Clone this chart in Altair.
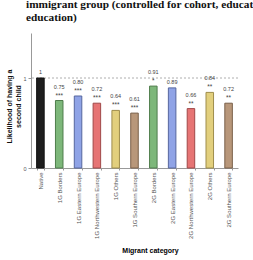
import altair as alt
import pandas as pd

categories = ["Native", "1G Borders", "1G Eastern Europe", "1G Northwestern Europe",
              "1G Others", "1G Southern Europe", "2G Borders", "2G Eastern Europe",
              "2G Northwestern Europe", "2G Others", "2G Southern Europe"]
values = [1.00, 0.75, 0.80, 0.72, 0.64, 0.61, 0.91, 0.89, 0.66, 0.84, 0.72]
value_labels = ["1", "0.75", "0.80", "0.72", "0.64", "0.61", "0.91", "0.89", "0.66", "0.84", "0.72"]
stars = ["", "***", "***", "***", "***", "***", "*", "", "**", "**", "**"]
groups = ["Native", "Borders", "Eastern", "Northwestern", "Others", "Southern",
          "Borders", "Eastern", "Northwestern", "Others", "Southern"]

group_domain = ["Native", "Borders", "Eastern", "Northwestern", "Others", "Southern"]
fill_range = ["#1e1e1e", "#7db77a", "#8fa3e6", "#e67474", "#e2cf7d", "#b8977a"]
stroke_range = ["#111111", "#4f7d4c", "#56679e", "#a04848", "#9e8d4c", "#7a604a"]

df = pd.DataFrame({"cat": categories, "val": values, "grp": groups,
                   "lab": value_labels, "stars": stars})

x = alt.X("cat:N", sort=categories, title="Migrant category",
          scale=alt.Scale(paddingInner=0.6, paddingOuter=0.3),
          axis=alt.Axis(labelAngle=-90, labelFontSize=6, labelColor="#555555",
                        labelFont="Liberation Sans", labelPadding=2,
                        tickBand="extent", tickSize=2, tickColor="#999999",
                        domainColor="#999999", titleFont="Liberation Sans",
                        titleFontSize=7, titleFontWeight="bold", titleColor="#000000",
                        titleX=119, titleY=84, titleBaseline="alphabetic"))

y = alt.Y("val:Q", title=["Likelihood of having a", "second child"],
          scale=alt.Scale(domain=[0, 1.5], nice=False),
          axis=alt.Axis(values=[0, 1], format=".0f", grid=False, labelFontSize=5.5,
                        labelColor="#555555", labelFont="Liberation Sans",
                        tickSize=3, tickColor="#999999", domainColor="#999999",
                        titleFont="Liberation Sans", titleFontSize=7,
                        titleFontWeight="bold", titleColor="#111111",
                        titleAngle=-90, titleX=-26, titleY=73,
                        titleAlign="center", titleBaseline="top", titleLineHeight=9))

bars = alt.Chart(df).mark_bar(strokeWidth=1).encode(
    x=x, y=y,
    fill=alt.Fill("grp:N", scale=alt.Scale(domain=group_domain, range=fill_range), legend=None),
    stroke=alt.Stroke("grp:N", scale=alt.Scale(domain=group_domain, range=stroke_range), legend=None),
)

num_starred = alt.Chart(df).transform_filter("datum.stars != ''").mark_text(
    baseline="alphabetic", dy=-12, fontSize=5.5, color="#444444",
    font="Liberation Sans").encode(x=x, y=y, text="lab:N")

num_plain = alt.Chart(df).transform_filter("datum.stars == ''").mark_text(
    baseline="alphabetic", dy=-4, fontSize=5.5, color="#444444",
    font="Liberation Sans").encode(x=x, y=y, text="lab:N")

star_text = alt.Chart(df).transform_filter("datum.stars != ''").mark_text(
    baseline="alphabetic", dy=-3, fontSize=6.5, color="#444444",
    font="Liberation Sans").encode(x=x, y=y, text="stars:N")

ref = alt.Chart(pd.DataFrame({"v": [1]})).mark_rule(
    strokeDash=[2, 2], color="#999999", strokeWidth=0.8).encode(y=alt.Y("v:Q"))

chart = alt.layer(ref, bars, num_starred, num_plain, star_text).properties(
    width=207, height=135,
    autosize=alt.AutoSizeParams(type="none"),
    padding={"left": 31, "top": 33, "right": 15, "bottom": 92},
    title=alt.TitleParams(
        text=["immigrant group (controlled for cohort, education, partner's",
              "education)"],
        anchor="start", frame="bounds", dx=21, offset=10,
        font="Liberation Serif", fontSize=11.3, fontWeight="bold",
        color="#111111", lineHeight=12.5),
).configure_view(stroke=None).configure_axis(titleColor="#000000")

chart.save("out.html", embed_options={"renderer": "svg", "actions": False})
